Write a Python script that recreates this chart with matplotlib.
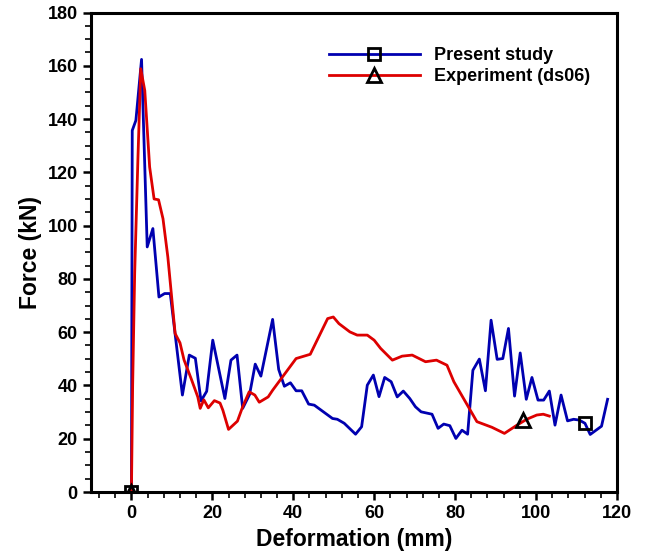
import matplotlib.pyplot as plt
from matplotlib.ticker import MultipleLocator

# Present study (numerical)
study_x = [0, 0.2, 1.1, 2.5, 3.9, 5.3, 6.8, 8.2, 9.6, 12.6, 14.3, 15.8, 17.2, 18.6, 20.1,
           23.1, 24.6, 26.1, 27.5, 29.2, 30.6, 32.0, 33.5, 34.9, 36.4, 37.8, 39.3, 40.7,
           42.1, 43.8, 45.2, 49.7, 50.9, 52.6, 55.4, 56.9, 58.3, 59.8, 61.2, 62.6, 64.2,
           65.7, 67.2, 68.8, 70.2, 71.6, 74.3, 75.8, 77.2, 78.7, 80.2, 81.7, 83.1, 84.4,
           86.0, 87.5, 88.9, 90.4, 91.8, 93.2, 94.7, 96.1, 97.6, 99.0, 100.5, 101.9,
           103.3, 104.7, 106.2, 107.8, 109.3, 110.7, 112.1, 113.4, 116.2, 117.7]
study_y = [0, 135.7, 139.5, 162.4, 92.0, 98.9, 73.2, 74.5, 74.5, 36.4, 51.4, 50.2, 34.2,
           37.8, 57.0, 35.1, 49.5, 51.4, 31.4, 36.6, 48.0, 43.5, 54.5, 64.8, 46.0, 39.7,
           41.0, 38.0, 38.0, 33.0, 32.6, 27.6, 27.3, 25.8, 21.7, 24.5, 40.1, 43.9, 35.8,
           43.0, 41.4, 35.7, 37.9, 35.1, 32.0, 30.1, 29.2, 23.9, 25.5, 24.9, 20.1, 23.2,
           21.7, 45.7, 49.9, 38.0, 64.5, 49.8, 50.1, 61.4, 36.0, 52.2, 34.8, 43.0, 34.5,
           34.5, 37.9, 25.1, 36.4, 26.7, 27.3, 27.0, 25.8, 21.6, 24.7, 34.8]

# Experiment (ds06)
exp_x = [0, 0.3, 0.8, 1.6, 2.3, 3.3, 4.5, 5.6, 6.7, 7.8, 9.0, 10.8, 12.0, 13.0, 14.8,
         16.4, 17.0, 17.9, 19.0, 20.5, 21.9, 22.6, 24.0, 26.2, 27.5, 29.1, 30.5, 31.6,
         33.8, 34.9, 40.7, 44.2, 48.5, 49.9, 51.3, 54.0, 55.8, 58.3, 60.0, 61.6, 64.5,
         66.9, 69.4, 72.7, 75.4, 78.0, 79.7, 85.4, 89.1, 92.2, 95.3, 97.7, 100.2,
         101.8, 103.3]
exp_y = [0, 40, 82, 125, 158.9, 150.7, 122, 110, 109.7, 102.6, 88.2, 59.5, 56.0, 49.6,
         42.4, 35.7, 31.4, 34.6, 31.6, 34.3, 33.4, 30.7, 23.5, 26.6, 32.0, 37.6, 36.4,
         33.7, 35.7, 38.2, 50.1, 51.7, 65.1, 65.7, 63.2, 60.1, 58.9, 58.9, 57.0, 53.9,
         49.5, 51.0, 51.4, 48.9, 49.5, 47.6, 41.4, 26.4, 24.3, 22.0, 25.1, 27.3, 28.9,
         29.2, 28.5]

plt.rcParams['font.family'] = ['Liberation Sans', 'DejaVu Sans']
plt.rcParams['font.weight'] = 'bold'

fig = plt.figure(figsize=(6.48, 5.56), dpi=100)
ax = fig.add_axes([0.1404, 0.1151, 0.8116, 0.8624])

mk = dict(markerfacecolor='none', markeredgecolor='black', markeredgewidth=2.0)
ax.plot(study_x, study_y, color='#0000B0', lw=2.0, marker='s', markevery=[0, 72],
        markersize=9, label='Present study', **mk)
ax.plot(exp_x, exp_y, color='#DD0000', lw=2.0, marker='^', markevery=[0],
        markersize=10, label='Experiment (ds06)', **mk)
# triangle marker sits on the red curve near x = 96.7
ax.plot([96.7], [26.9], linestyle='none', marker='^', markersize=10, **mk)

ax.set_xlim(-10, 120)
ax.set_ylim(0, 180)
ax.xaxis.set_major_locator(MultipleLocator(20))
ax.xaxis.set_minor_locator(MultipleLocator(4))
ax.yaxis.set_major_locator(MultipleLocator(20))
ax.yaxis.set_minor_locator(MultipleLocator(5))
ax.tick_params(which='major', direction='out', length=6, width=1.8, labelsize=13)
ax.tick_params(which='minor', direction='out', length=4, width=1.2)
for sp in ax.spines.values():
    sp.set_linewidth(2.2)

ax.set_xlabel('Deformation (mm)', fontsize=16.5, fontweight='bold', labelpad=4)
ax.set_ylabel('Force (kN)', fontsize=16.5, fontweight='bold', labelpad=4)

ax.legend(loc='upper right', bbox_to_anchor=(0.98, 0.962), frameon=False,
          handlelength=5.0, labelspacing=0.25, prop={'weight': 'bold', 'size': 13})

fig.savefig('out.png', dpi=100)
